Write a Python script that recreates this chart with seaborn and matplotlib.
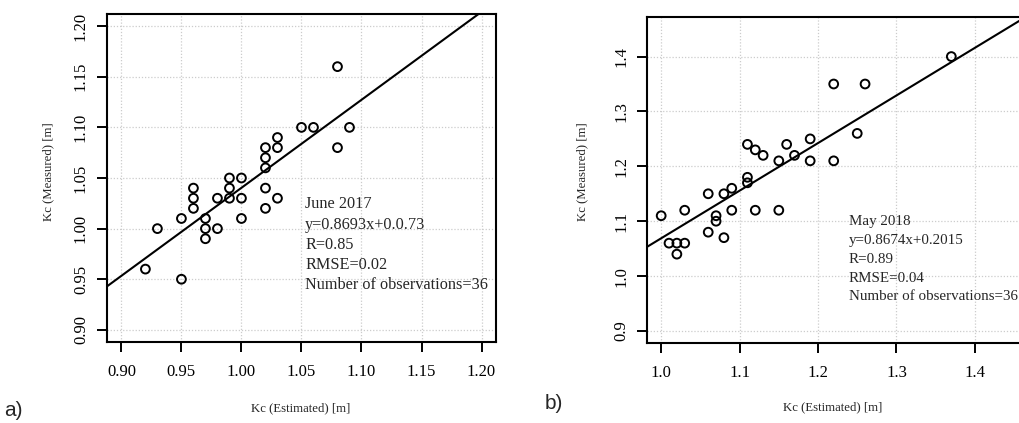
import matplotlib
matplotlib.use("Agg")
import matplotlib.pyplot as plt
import seaborn as sns
import pandas as pd

# panel a) June 2017
est_a = [1.08, 1.05, 1.06, 1.09, 1.03, 1.02, 1.03, 1.08, 1.02, 1.02, 0.99, 1.00, 0.96, 0.99, 1.02, 0.96,
         0.98, 0.99, 1.00, 1.03, 0.96, 1.02, 0.95, 0.97, 1.00, 0.93, 0.97, 0.98, 0.97, 0.92, 0.95]
meas_a = [1.16, 1.10, 1.10, 1.10, 1.09, 1.08, 1.08, 1.08, 1.07, 1.06, 1.05, 1.05, 1.04, 1.04, 1.04, 1.03,
          1.03, 1.03, 1.03, 1.03, 1.02, 1.02, 1.01, 1.01, 1.01, 1.00, 1.00, 1.00, 0.99, 0.96, 0.95]
fit_a = (0.8693, 0.171)
text_a = ["June 2017", "y=0.8693x+0.0.73", "R=0.85", "RMSE=0.02", "Number of observations=36"]
ticks_a = [0.90, 0.95, 1.00, 1.05, 1.10, 1.15, 1.20]

# panel b) May 2018
est_b = [1.37, 1.22, 1.26, 1.25, 1.11, 1.16, 1.12, 1.13, 1.17, 1.19, 1.15, 1.19, 1.22, 1.11, 1.11, 1.09,
         1.08, 1.06, 1.00, 1.03, 1.09, 1.12, 1.15, 1.07, 1.07, 1.06, 1.08, 1.01, 1.02, 1.03, 1.02]
meas_b = [1.40, 1.35, 1.35, 1.26, 1.24, 1.24, 1.23, 1.22, 1.22, 1.25, 1.21, 1.21, 1.21, 1.18, 1.17, 1.16,
          1.15, 1.15, 1.11, 1.12, 1.12, 1.12, 1.12, 1.11, 1.10, 1.08, 1.07, 1.06, 1.06, 1.06, 1.04]
fit_b = (0.8674, 0.2015)
text_b = ["May 2018", "y=0.8674x+0.2015", "R=0.89", "RMSE=0.04", "Number of observations=36"]
xticks_b = [1.0, 1.1, 1.2, 1.3, 1.4]
yticks_b = [0.9, 1.0, 1.1, 1.2, 1.3, 1.4]

sns.set_style("white")
plt.rcParams["font.family"] = ["Liberation Serif", "DejaVu Serif"]

fig = plt.figure(figsize=(10.19, 4.23), dpi=100)
ax1 = fig.add_axes([0.105, 0.1915, 0.3817, 0.7754])
ax2 = fig.add_axes([0.635, 0.189, 0.374, 0.7707])


def panel(ax, x, y, fit, lines, xt, yt, xlim, ylim, fmt, tx, ty, dy, fs):
    df = pd.DataFrame({"est": x, "meas": y})
    sns.scatterplot(data=df, x="est", y="meas", ax=ax, marker="o", s=40,
                    facecolor="none", edgecolor="black", linewidth=1.4, zorder=3)
    ax.axline((0, fit[1]), slope=fit[0], color="black", lw=1.5, zorder=2)
    ax.set_xlim(*xlim)
    ax.set_ylim(*ylim)
    ax.set_xticks(xt)
    ax.set_yticks(yt)
    ax.set_xticklabels([fmt % v for v in xt])
    ax.set_yticklabels([fmt % v for v in yt], rotation=90, va="center")
    ax.grid(True, color="#cccccc", linestyle=(0, (1, 1.5)), linewidth=0.9)
    for s in ax.spines.values():
        s.set_color("black")
        s.set_linewidth(1.5)
    ax.tick_params(direction="out", length=7, width=1.4, labelsize=12, pad=9,
                   bottom=True, left=True, colors="black")
    ax.tick_params(axis="y", pad=6)
    ax.set_xlabel("")
    ax.set_ylabel("")
    for i, t in enumerate(lines):
        ax.text(tx, ty - i * dy, t, fontsize=fs, va="center", ha="left", zorder=4)


panel(ax1, est_a, meas_a, fit_a, text_a, ticks_a, ticks_a, (0.888, 1.212), (0.888, 1.212),
      "%.2f", 1.053, 1.024, 0.02, 11.7)
panel(ax2, est_b, meas_b, fit_b, text_b, xticks_b, yticks_b, (0.982, 1.468), (0.878, 1.472),
      "%.1f", 1.2395, 1.10, 0.0345, 10.8)

fig.text(0.2954, 0.035, "Kc (Estimated) [m]", fontsize=9.2, ha="center", va="center")
fig.text(0.817, 0.038, "Kc (Estimated) [m]", fontsize=9.2, ha="center", va="center")
fig.text(0.047, 0.595, "Kc (Measured) [m]", fontsize=9.2, ha="center", va="center", rotation=90)
fig.text(0.571, 0.595, "Kc (Measured) [m]", fontsize=9.2, ha="center", va="center", rotation=90)
fig.text(0.004, 0.03, "a)", fontsize=15, family="Liberation Sans", va="center")
fig.text(0.535, 0.045, "b)", fontsize=15, family="Liberation Sans", va="center")

fig.savefig("out.png", dpi=100)
